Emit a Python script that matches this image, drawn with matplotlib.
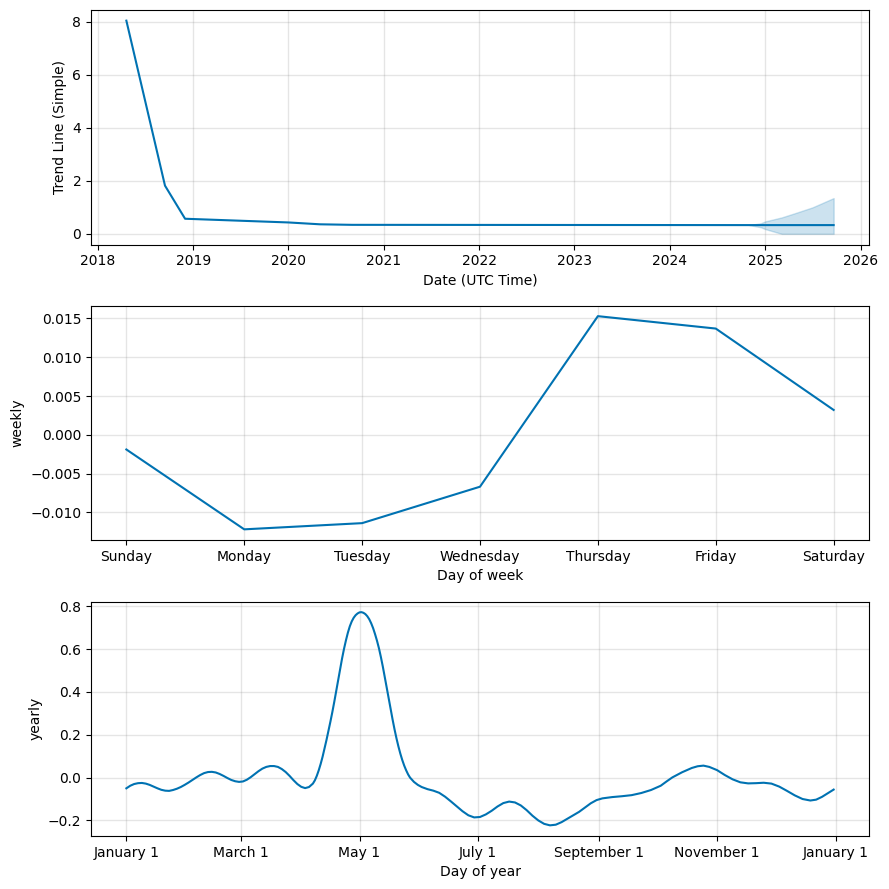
import matplotlib
matplotlib.use("Agg")
import matplotlib.pyplot as plt
import matplotlib.dates as mdates
from matplotlib.ticker import FuncFormatter
import pandas as pd

# ---- Trend component ----
trend_dates = ["2018-04-20", "2018-09-15", "2018-12-01", "2020-01-01", "2020-05-01",
               "2020-09-01", "2024-11-01", "2025-09-20"]
trend_values = [8.05, 1.82, 0.57, 0.43, 0.36, 0.34, 0.33, 0.33]

band_dates = ["2024-11-01", "2024-12-15", "2025-01-01", "2025-03-05", "2025-05-01",
              "2025-07-01", "2025-09-20"]
band_lower = [0.33, 0.25, 0.18, 0.0, 0.0, 0.0, 0.0]
band_upper = [0.33, 0.40, 0.47, 0.62, 0.80, 1.00, 1.35]

# ---- Weekly component ----
days_of_week = ["Sunday", "Monday", "Tuesday", "Wednesday", "Thursday", "Friday", "Saturday"]
weekly_values = [-0.0019, -0.0122, -0.0114, -0.0067, 0.0153, 0.0137, 0.0032]

# ---- Yearly component: (day of year, value) ----
yearly_points = [
    (0, -0.050), (2, -0.038), (4, -0.030), (6, -0.026), (8, -0.025), (10, -0.028),
    (12, -0.034), (14, -0.042), (16, -0.050), (18, -0.057), (20, -0.061), (22, -0.062),
    (24, -0.058), (26, -0.052), (28, -0.044), (30, -0.034), (32, -0.023), (34, -0.011),
    (36, 0.001), (38, 0.012), (40, 0.021), (42, 0.026), (44, 0.027), (46, 0.024),
    (48, 0.017), (50, 0.008), (52, -0.002), (54, -0.011), (56, -0.017), (58, -0.020),
    (60, -0.018), (62, -0.010), (64, 0.002), (66, 0.016), (68, 0.030), (70, 0.042),
    (72, 0.050), (74, 0.054), (76, 0.054), (78, 0.050), (80, 0.040), (82, 0.026),
    (84, 0.008), (86, -0.012), (88, -0.030), (90, -0.043), (92, -0.049), (94, -0.044),
    (96, -0.028), (97, -0.013), (98, 0.008), (99, 0.034), (100, 0.064), (101, 0.098),
    (102, 0.136), (103, 0.176), (104, 0.218), (105, 0.261), (106, 0.306), (107, 0.354),
    (108, 0.405), (109, 0.457), (110, 0.508), (111, 0.556), (112, 0.601), (113, 0.641),
    (114, 0.677), (115, 0.707), (116, 0.730), (117, 0.747), (118, 0.759), (119, 0.767),
    (120, 0.772), (121, 0.773), (122, 0.770), (123, 0.764), (124, 0.754), (125, 0.740),
    (126, 0.721), (127, 0.698), (128, 0.670), (129, 0.639), (130, 0.604), (131, 0.563),
    (132, 0.518), (133, 0.470), (134, 0.420), (135, 0.370), (136, 0.320), (137, 0.272),
    (138, 0.226), (139, 0.184), (140, 0.146), (141, 0.112), (142, 0.082), (143, 0.056),
    (144, 0.034), (145, 0.015), (146, 0.000), (148, -0.020), (150, -0.034), (152, -0.044),
    (155, -0.054), (158, -0.061), (161, -0.071), (164, -0.089), (167, -0.111), (170, -0.134),
    (173, -0.157), (176, -0.176), (179, -0.186), (182, -0.184), (185, -0.172), (188, -0.155),
    (191, -0.135), (194, -0.119), (197, -0.112), (200, -0.116), (203, -0.130), (206, -0.152),
    (209, -0.178), (212, -0.200), (215, -0.216), (218, -0.223), (221, -0.220), (224, -0.208),
    (227, -0.192), (230, -0.176), (233, -0.160), (236, -0.140), (239, -0.120), (242, -0.105),
    (245, -0.097), (250, -0.091), (255, -0.087), (260, -0.082), (265, -0.072), (270, -0.058),
    (275, -0.038), (278, -0.018), (281, 0.001), (286, 0.025), (291, 0.045), (294, 0.053),
    (297, 0.056), (300, 0.050), (304, 0.035), (308, 0.012), (312, -0.008), (316, -0.022),
    (320, -0.027), (324, -0.026), (328, -0.024), (332, -0.028), (336, -0.042), (340, -0.062),
    (344, -0.083), (348, -0.100), (352, -0.107), (355, -0.103), (358, -0.090), (361, -0.073),
    (364, -0.056),
]
yearly_days = [d for d, _ in yearly_points]
yearly_values = [v for _, v in yearly_points]

color = "#0072B2"

fig = plt.figure(figsize=(8.89, 8.89), dpi=100, facecolor="w")
L, W, H = 91 / 889, 778 / 889, 234.5 / 889
ax1 = fig.add_axes([L, 1 - 244.5 / 889, W, H])
ax2 = fig.add_axes([L, 1 - 540 / 889, W, H])
ax3 = fig.add_axes([L, 1 - 836 / 889, W, H])

# Trend
td = pd.to_datetime(trend_dates)
ax1.plot(td, trend_values, ls="-", c=color)
bd = pd.to_datetime(band_dates)
ax1.fill_between(bd, band_lower, band_upper, color=color, alpha=0.2)
ax1.xaxis.set_major_locator(mdates.YearLocator())
ax1.xaxis.set_major_formatter(mdates.DateFormatter("%Y"))
ax1.grid(True, which="major", c="gray", ls="-", lw=1, alpha=0.2)
ax1.set_xlabel("Date (UTC Time)")
ax1.set_ylabel("Trend Line (Simple)")

# Weekly
ax2.plot(range(len(days_of_week)), weekly_values, ls="-", c=color)
ax2.set_xticks(range(len(days_of_week)))
ax2.set_xticklabels(days_of_week)
ax2.grid(True, which="major", c="gray", ls="-", lw=1, alpha=0.2)
ax2.set_xlabel("Day of week")
ax2.set_ylabel("weekly")

# Yearly
ydates = pd.Timestamp("2017-01-01") + pd.to_timedelta(yearly_days, unit="D")
ax3.plot(ydates, yearly_values, ls="-", c=color)
ax3.xaxis.set_major_locator(mdates.MonthLocator(range(1, 13), bymonthday=1, interval=2))
ax3.xaxis.set_major_formatter(FuncFormatter(
    lambda x, pos=None: "{dt:%B} {dt.day}".format(dt=mdates.num2date(x))))
ax3.grid(True, which="major", c="gray", ls="-", lw=1, alpha=0.2)
ax3.set_xlabel("Day of year")
ax3.set_ylabel("yearly")

fig.savefig("out.png", dpi=100, facecolor="w")
